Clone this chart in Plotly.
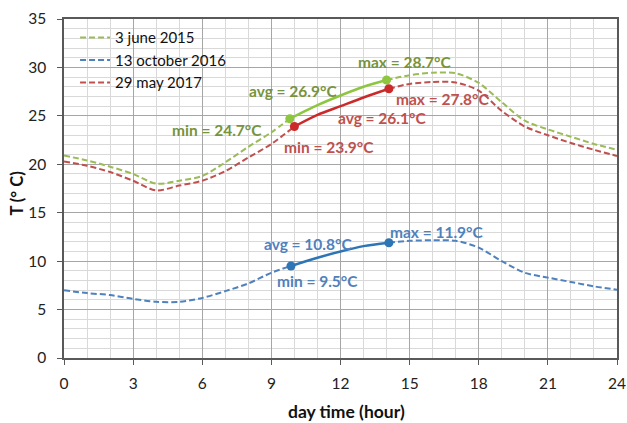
import plotly.graph_objects as go

# ---- data ----
names = ["3 june 2015", "13 october 2016", "29 may 2017"]

g_pre_x = [0, 1, 2, 3, 4, 5, 6, 7, 8, 9, 9.8]
g_pre_y = [20.9, 20.4, 19.75, 19.0, 18.0, 18.3, 18.8, 20.2, 21.8, 23.3, 24.7]
g_mid_x = [9.8, 11, 12, 13, 14.0]
g_mid_y = [24.7, 26.1, 27.1, 28.0, 28.7]
g_post_x = [14.0, 15, 16, 17, 18, 19, 20, 21, 22, 23, 24]
g_post_y = [28.7, 29.2, 29.45, 29.4, 28.4, 26.4, 24.5, 23.6, 22.85, 22.1, 21.5]

b_pre_x = [0, 1, 2, 3, 4, 5, 6, 7, 8, 9, 9.85]
b_pre_y = [7.0, 6.7, 6.5, 6.1, 5.8, 5.8, 6.2, 6.9, 7.7, 8.8, 9.5]
b_mid_x = [9.85, 11, 12, 13, 14.1]
b_mid_y = [9.5, 10.35, 11.0, 11.55, 11.9]
b_post_x = [14.1, 15, 16, 17, 18, 19, 20, 21, 22, 23, 24]
b_post_y = [11.9, 12.1, 12.15, 12.1, 11.4, 10.0, 8.8, 8.3, 7.85, 7.4, 7.05]

r_pre_x = [0, 1, 2, 3, 4, 5, 6, 7, 8, 9, 10.0]
r_pre_y = [20.3, 19.85, 19.2, 18.3, 17.3, 17.8, 18.3, 19.3, 20.7, 22.1, 23.9]
r_mid_x = [10.0, 11, 12, 13, 14.1]
r_mid_y = [23.9, 25.1, 26.0, 26.9, 27.8]
r_post_x = [14.1, 15, 16, 17, 18, 19, 20, 21, 22, 23, 24]
r_post_y = [27.8, 28.3, 28.5, 28.45, 27.6, 25.5, 23.9, 23.0, 22.2, 21.5, 20.85]

# labels: (text, x, y)
g_labels = [("min = 24.7°C", 6.64, 23.55), ("avg = 26.9°C", 9.93, 27.6), ("max = 28.7°C", 14.8, 30.6)]
b_labels = [("min = 9.5°C", 11.0, 7.9), ("avg = 10.8°C", 10.6, 11.8), ("max = 11.9°C", 16.2, 13.0)]
r_labels = [("min = 23.9°C", 11.5, 21.8), ("avg = 26.1°C", 13.8, 24.8), ("max = 27.8°C", 16.45, 26.7)]

x_ticks = [0, 3, 6, 9, 12, 15, 18, 21, 24]
y_ticks = [0, 5, 10, 15, 20, 25, 30, 35]
x_title = "day time (hour)"
y_title = "T (° C)"

series = [
    (names[0], g_pre_x, g_pre_y, g_mid_x, g_mid_y, g_post_x, g_post_y, "#9BBB59", "#8DC63F", "#77933C", g_labels),
    (names[1], b_pre_x, b_pre_y, b_mid_x, b_mid_y, b_post_x, b_post_y, "#4F81BD", "#2E75B6", "#4F81BD", b_labels),
    (names[2], r_pre_x, r_pre_y, r_mid_x, r_mid_y, r_post_x, r_post_y, "#C0504D", "#CC2A2A", "#C0504D", r_labels),
]

fig = go.Figure()
annotations = []
for name, px_, py_, mx, my, qx, qy, dcol, scol, tcol, labels in series:
    dash = "6px,3px"
    fig.add_trace(go.Scatter(x=px_, y=py_, mode="lines", name=name, legendgroup=name,
                             line=dict(color=dcol, width=2, dash=dash, shape="spline", smoothing=0.8)))
    fig.add_trace(go.Scatter(x=qx, y=qy, mode="lines", name=name, legendgroup=name, showlegend=False,
                             line=dict(color=dcol, width=2, dash=dash, shape="spline", smoothing=0.8)))
    fig.add_trace(go.Scatter(x=mx, y=my, mode="lines", showlegend=False,
                             line=dict(color=scol, width=2.5, shape="spline", smoothing=0.8)))
    fig.add_trace(go.Scatter(x=[mx[0], mx[-1]], y=[my[0], my[-1]], mode="markers", showlegend=False,
                             marker=dict(color=scol, size=9)))
    for t, lx, ly in labels:
        annotations.append(dict(x=lx, y=ly, text="<b>" + t + "</b>", showarrow=False,
                                font=dict(family="Lato", size=15.5, color=tcol),
                                xanchor="center", yanchor="middle"))

# axis titles as annotations for exact placement
annotations.append(dict(x=0.51, y=0, xref="paper", yref="paper", yshift=-53, text="<b>" + x_title + "</b>",
                        showarrow=False, xanchor="center", yanchor="middle",
                        font=dict(family="Lato", size=17.5, color="#111111")))
annotations.append(dict(x=0, y=0.485, xref="paper", yref="paper", xshift=-47, text="<b>" + y_title + "</b>",
                        showarrow=False, xanchor="center", yanchor="middle", textangle=-90,
                        font=dict(family="Lato", size=16.5, color="#111111")))

fig.update_layout(
    width=627, height=423,
    margin=dict(l=64, r=10, t=19, b=65),
    paper_bgcolor="white", plot_bgcolor="white",
    font=dict(family="Lato", color="#222222"),
    annotations=annotations,
    legend=dict(x=0.02, y=0.993, xanchor="left", yanchor="top",
                bgcolor="rgba(0,0,0,0)", font=dict(size=15, color="#111111"),
                tracegroupgap=0, itemwidth=30),
    xaxis=dict(range=[0, 24], tickvals=x_ticks, ticktext=[str(v) for v in x_ticks],
               automargin=False,
               showgrid=True, gridcolor="#A6A6A6", gridwidth=1,
               minor=dict(dtick=1, showgrid=True, gridcolor="#D9D9D9", gridwidth=1),
               showline=True, linecolor="#595959", linewidth=1.5, mirror=True,
               ticks="outside", ticklen=5, tickcolor="#595959", ticklabelstandoff=6,
               tickfont=dict(size=15.5, color="#222222"), zeroline=False),
    yaxis=dict(range=[0, 35], tickvals=y_ticks, ticktext=[str(v) for v in y_ticks],
               automargin=False,
               showgrid=True, gridcolor="#A6A6A6", gridwidth=1,
               minor=dict(dtick=1, showgrid=True, gridcolor="#D9D9D9", gridwidth=1),
               showline=True, linecolor="#595959", linewidth=1.5, mirror=True,
               ticks="outside", ticklen=5, tickcolor="#595959", ticklabelstandoff=8,
               tickfont=dict(size=15.5, color="#222222"), zeroline=False),
)

fig.write_html("out.html")
